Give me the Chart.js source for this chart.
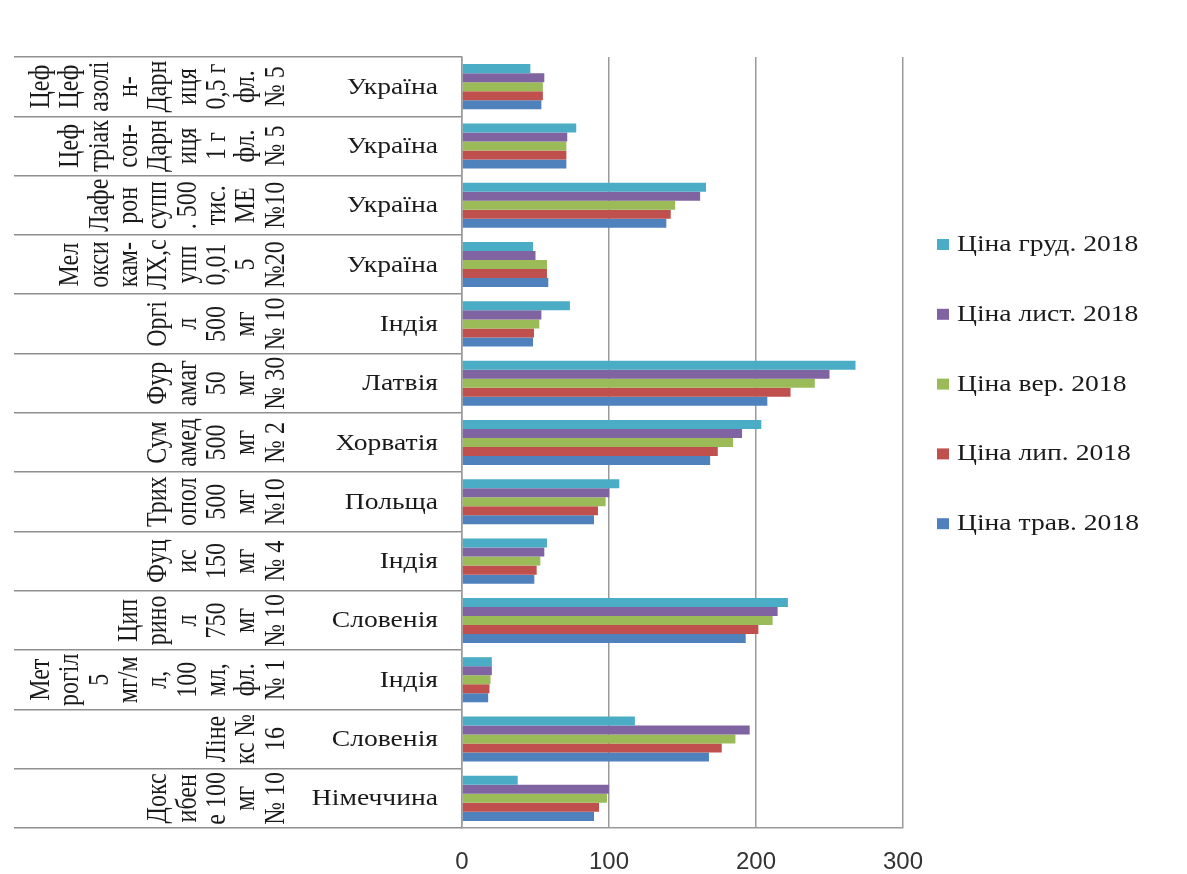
<!DOCTYPE html>
<html>
<head>
<meta charset="utf-8">
<script src="https://cdn.jsdelivr.net/npm/chart.js@4"></script>
<style>
  html, body { margin: 0; padding: 0; background: #fff; }
  #chart-container { width: 1187px; height: 874px; position: relative; }
</style>
</head>
<body>
<div id="chart-container"><canvas id="priceChart"></canvas></div>
<script>
// країни (внутрішній рівень підписів), зверху вниз
const countries = ['Україна', 'Україна', 'Україна', 'Україна', 'Індія', 'Латвія', 'Хорватія',
  'Польща', 'Індія', 'Словенія', 'Індія', 'Словенія', 'Німеччина'];

// назви препаратів, як вони перенесені в повернутих клітинках
const drugLines = [
  ['Цеф', 'Цеф', 'азолі', 'н-', 'Дарн', 'иця', '0,5 г', 'фл.', '№ 5'],
  ['Цеф', 'тріак', 'сон-', 'Дарн', 'иця', '1 г', 'фл.', '№ 5'],
  ['Лафе', 'рон', 'супп', '. 500', 'тис.', 'МЕ', '№10'],
  ['Мел', 'окси', 'кам-', 'ЛХ,с', 'упп', '0,01', '5', '№20'],
  ['Оргі', 'л', '500', 'мг', '№ 10'],
  ['Фур', 'амаг', '50', 'мг', '№ 30'],
  ['Сум', 'амед', '500', 'мг', '№ 2'],
  ['Трих', 'опол', '500', 'мг', '№10'],
  ['Фуц', 'ис', '150', 'мг', '№ 4'],
  ['Цип', 'рино', 'л', '750', 'мг', '№ 10'],
  ['Мет', 'рогіл', '5', 'мг/м', 'л,', '100', 'мл,', 'фл.', '№ 1'],
  ['Ліне', 'кс №', '16'],
  ['Докс', 'ибен', 'е 100', 'мг', '№ 10']
];

const seriesNames = ['Ціна груд. 2018', 'Ціна лист. 2018', 'Ціна вер. 2018', 'Ціна лип. 2018', 'Ціна трав. 2018'];

const priceDec = [46.5, 77.7, 166, 48.3, 73.4, 267.7, 203.6, 107, 57.8, 221.7, 20.3, 117.6, 37.9];
const priceNov = [56, 71.6, 162, 50, 54, 250, 190.5, 100.2, 56, 214.7, 20.3, 195.7, 100];
const priceSep = [55, 71, 145, 57.8, 52.6, 240, 184.4, 97.7, 53.3, 211.3, 19.4, 186, 98.6];
const priceJul = [55, 71, 142, 57.8, 49, 223.5, 174, 92.5, 50.8, 201.6, 18.7, 176.7, 93.2];
const priceMay = [54, 71, 139, 58.7, 48.3, 207.7, 168.8, 89.8, 49.2, 193, 17.8, 168, 89.8];

const xTicks = [0, 100, 200, 300];

const colors = ['#4BACC6', '#8064A2', '#9BBB59', '#C0504D', '#4F81BD'];
const seriesData = [priceDec, priceNov, priceSep, priceJul, priceMay];

const serif = '"Liberation Serif", "Times New Roman", serif';
const stretch = 1.2; // текст у оригіналі трохи розтягнутий по горизонталі

// підписи ліворуч (повернуті назви + країни) і легенда праворуч
const labelsPlugin = {
  id: 'labelsPlugin',
  afterDraw(chart) {
    const ctx = chart.ctx;
    const yScale = chart.scales.y;
    ctx.save();
    ctx.fillStyle = '#1a1a1a';

    // назви препаратів, повернуті на 90°
    ctx.font = '24px ' + serif;
    ctx.textAlign = 'center';
    ctx.textBaseline = 'middle';
    const lastX = 276;
    const pitch = 29.3;
    drugLines.forEach((lines, i) => {
      const cy = yScale.getPixelForValue(i);
      const n = lines.length;
      lines.forEach((txt, j) => {
        const x = lastX - (n - 1 - j) * pitch;
        ctx.save();
        ctx.translate(x, cy);
        ctx.scale(stretch, 1);
        ctx.rotate(-Math.PI / 2);
        ctx.fillText(txt, 0, 0);
        ctx.restore();
      });
    });

    // країни
    ctx.font = '23px ' + serif;
    ctx.textAlign = 'right';
    chart.data.labels.forEach((lbl, i) => {
      const cy = yScale.getPixelForValue(i);
      ctx.save();
      ctx.translate(438, cy + 1);
      ctx.scale(stretch, 1);
      ctx.fillText(lbl, 0, 0);
      ctx.restore();
    });

    // легенда
    ctx.textAlign = 'left';
    chart.data.datasets.forEach((ds, i) => {
      const cy = 244 + i * 69.8;
      ctx.fillStyle = ds.backgroundColor;
      ctx.fillRect(937, cy - 5, 12, 11);
      ctx.fillStyle = '#1a1a1a';
      ctx.save();
      ctx.translate(957, cy + 1);
      ctx.scale(stretch, 1);
      ctx.fillText(ds.label, 0, 0);
      ctx.restore();
    });
    ctx.restore();
  }
};

const ctx = document.getElementById('priceChart').getContext('2d');

const myChart = new Chart(ctx, {
  type: 'bar',
  data: {
    labels: countries,
    datasets: seriesNames.map((name, i) => ({
      label: name,
      data: seriesData[i],
      backgroundColor: colors[i],
      borderWidth: 0,
      barPercentage: 1,
      categoryPercentage: 0.76
    }))
  },
  options: {
    indexAxis: 'y',
    responsive: true,
    maintainAspectRatio: false,
    animation: false,
    layout: {
      padding: { left: 14, top: 57, right: 284, bottom: 2 }
    },
    scales: {
      x: {
        min: xTicks[0],
        max: xTicks[xTicks.length - 1],
        afterBuildTicks: (scale) => {
          scale.ticks = xTicks.map(v => ({ value: v }));
        },
        afterFit: (scale) => {
          scale.height = 44;
        },
        grid: {
          color: '#9a9a9a',
          lineWidth: 1.5,
          drawTicks: false
        },
        border: { color: '#9a9a9a', width: 1.5 },
        ticks: {
          padding: 22,
          color: '#333',
          font: { family: '"Liberation Sans", Arial, sans-serif', size: 24, lineHeight: 1 }
        }
      },
      y: {
        offset: true,
        grid: {
          offset: true,
          drawOnChartArea: false,
          drawTicks: true,
          tickLength: 448,
          color: '#8f8f8f',
          lineWidth: 1.5
        },
        border: { color: '#9a9a9a', width: 1.5 },
        ticks: { display: false }
      }
    },
    plugins: {
      legend: { display: false },
      tooltip: { enabled: false }
    }
  },
  plugins: [labelsPlugin]
});
</script>
</body>
</html>
